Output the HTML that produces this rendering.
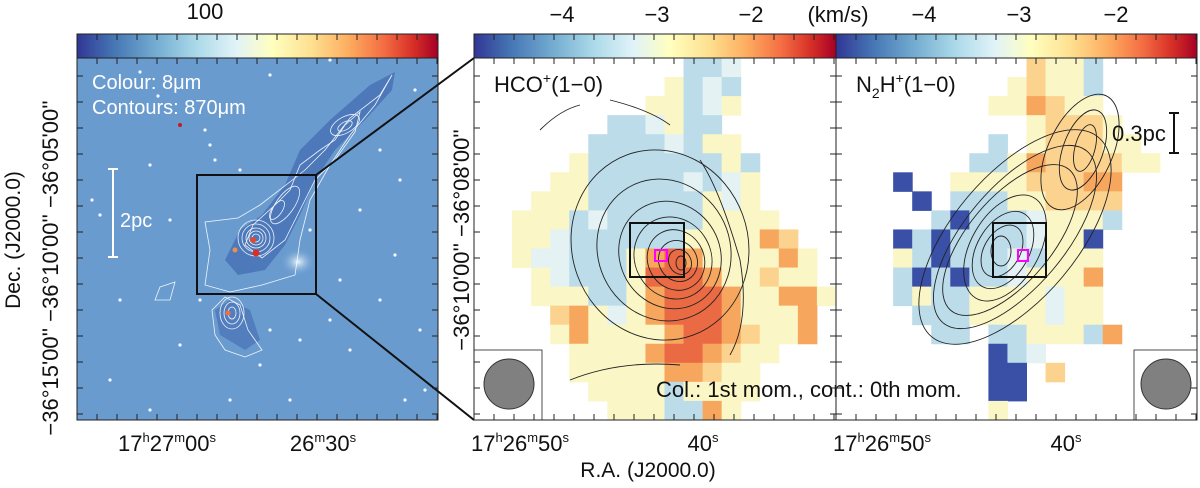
<!DOCTYPE html>
<html><head><meta charset="utf-8">
<style>
body{margin:0;background:#fff;width:1200px;height:483px;overflow:hidden;font-family:"Liberation Sans",sans-serif}
svg text{font-family:"Liberation Sans",sans-serif;fill:#111}
</style></head><body>
<svg id="fig" width="1200" height="483" viewBox="0 0 1200 483" xmlns="http://www.w3.org/2000/svg">
<defs>
<linearGradient id="cb" x1="0" x2="1" y1="0" y2="0">
<stop offset="0" stop-color="#313695"/><stop offset="0.1" stop-color="#4575b4"/><stop offset="0.22" stop-color="#74add1"/><stop offset="0.33" stop-color="#abd9e9"/><stop offset="0.44" stop-color="#e0f3f8"/><stop offset="0.54" stop-color="#ffffbf"/><stop offset="0.65" stop-color="#fee090"/><stop offset="0.75" stop-color="#fdae61"/><stop offset="0.85" stop-color="#f46d43"/><stop offset="0.93" stop-color="#d73027"/><stop offset="1" stop-color="#a50026"/>
</linearGradient>
<radialGradient id="glow" cx="0.5" cy="0.5" r="0.5"><stop offset="0" stop-color="#e8f4fb"/><stop offset="1" stop-color="#6a9bcf" stop-opacity="0"/></radialGradient>
</defs>
<rect x="77" y="34" width="361" height="24" fill="url(#cb)" stroke="#222"/>
<rect x="474" y="34" width="362" height="24" fill="url(#cb)" stroke="#222"/>
<rect x="836" y="34" width="361" height="24" fill="url(#cb)" stroke="#222"/>
<text x="205" y="19" font-size="22" text-anchor="middle">100</text>
<text x="562" y="22" font-size="22" text-anchor="middle">−4</text>
<text x="657" y="22" font-size="22" text-anchor="middle">−3</text>
<text x="751" y="22" font-size="22" text-anchor="middle">−2</text>
<text x="838" y="22" font-size="22" text-anchor="middle">(km/s)</text>
<text x="924" y="22" font-size="22" text-anchor="middle">−4</text>
<text x="1019" y="22" font-size="22" text-anchor="middle">−3</text>
<text x="1116" y="22" font-size="22" text-anchor="middle">−2</text>

<g>
<rect x="77" y="58" width="361" height="362" fill="#6a9bcf"/>
<path d="M395 72 L370 85 L330 120 L300 150 L285 185 L262 215 L240 230 L225 260 L238 275 L265 270 L285 245 L300 215 L315 180 L335 150 L365 120 L392 90Z" fill="#3a62ad" opacity="0.6"/>
<path d="M230 300 L215 310 L220 335 L245 350 L260 340 L250 310Z" fill="#3a62ad" opacity="0.5"/>
<ellipse cx="298" cy="262" rx="18" ry="14" fill="url(#glow)"/>
<g fill="none" stroke="#fff" stroke-width="0.8" opacity="0.9">
<path d="M392 75 L380 95 L350 118 L325 150 L305 170 L295 178 L260 205 L238 218 L205 222 L210 250 L205 285 L230 292 L262 285 L295 275 L300 240 L310 200 L330 165 L350 135 L375 105Z"/>
<path d="M360 112 L345 125 L335 140 L320 150 L300 165 L290 190 L275 205 L253 225 L245 245 L262 258 L285 240 L300 210 L315 180 L335 160 L355 132Z"/>
<ellipse cx="345" cy="125" rx="16" ry="8" transform="rotate(-30 345 125)"/>
<ellipse cx="345" cy="126" rx="8" ry="4" transform="rotate(-30 345 126)"/>
<ellipse cx="285" cy="205" rx="9" ry="22" transform="rotate(35 285 205)"/>
<ellipse cx="277" cy="210" rx="5" ry="11" transform="rotate(35 277 210)"/>
<circle cx="256" cy="238" r="18"/><circle cx="256" cy="238" r="14"/><circle cx="256" cy="238" r="10"/><circle cx="256" cy="238" r="7"/><circle cx="256" cy="238" r="4"/>
<path d="M160 287 L175 282 L170 300 L155 300Z"/>
<path d="M225 297 L240 305 L248 330 L262 350 L245 357 L225 350 L215 335 L212 310Z"/>
<ellipse cx="232" cy="313" rx="12" ry="16"/><ellipse cx="232" cy="313" rx="8" ry="11"/><ellipse cx="232" cy="313" rx="4" ry="6"/>
</g>
<g id="stars" fill="#f4f9ff"></g>
<circle cx="253" cy="240" r="3" fill="#e04a30"/><circle cx="256" cy="253" r="3.5" fill="#d73027"/><circle cx="235" cy="250" r="2.5" fill="#f48a50"/><circle cx="228" cy="313" r="2.5" fill="#f46d43"/><circle cx="180" cy="125" r="2" fill="#c81a1a"/>
<text x="92" y="89" font-size="20" style="fill:#fff">Colour: 8μm</text>
<text x="92" y="114" font-size="20" style="fill:#fff">Contours: 870μm</text>
<path d="M108 169 H118 M113 169 V257 M108 257 H118" stroke="#fff" stroke-width="2" fill="none"/>
<text x="120" y="227" font-size="20" style="fill:#fff">2pc</text>
<rect x="197" y="175" width="119" height="119" fill="none" stroke="#111" stroke-width="2"/>
</g>
<rect x="77" y="58" width="361" height="362" fill="none" stroke="#222"/>
<path d="M316 175 L474 58 M316 294 L474 420" stroke="#111" stroke-width="2"/>

<g id="hco"></g>
<g id="n2h"></g>

<g fill="none" stroke="#222" stroke-width="0.9">
<path d="M540 130 Q560 110 580 105 M610 100 Q650 110 670 125 M700 160 Q720 190 740 260 Q750 320 730 355 M570 380 Q620 360 680 365"/>
<ellipse cx="660" cy="245" rx="88" ry="96" transform="rotate(-20 660 245)"/>
<ellipse cx="664" cy="250" rx="66" ry="72" transform="rotate(-25 664 250)"/>
<ellipse cx="670" cy="255" rx="50" ry="55" transform="rotate(-30 670 255)"/>
<ellipse cx="673" cy="258" rx="38" ry="42" transform="rotate(-30 673 258)"/>
<ellipse cx="676" cy="260" rx="28" ry="31" transform="rotate(-30 676 260)"/>
<ellipse cx="678" cy="261" rx="19" ry="21" transform="rotate(-30 678 261)"/>
<ellipse cx="680" cy="262" rx="11" ry="13" transform="rotate(-30 680 262)"/>
<ellipse cx="681" cy="263" rx="5" ry="7"/>
</g>
<g fill="none" stroke="#222" stroke-width="0.9">
<ellipse cx="1015" cy="237" rx="62" ry="130" transform="rotate(40 1015 237)"/>
<ellipse cx="1015" cy="237" rx="50" ry="112" transform="rotate(40 1015 237)"/>
<ellipse cx="1010" cy="240" rx="42" ry="92" transform="rotate(40 1010 240)"/>
<ellipse cx="1005" cy="248" rx="34" ry="58" transform="rotate(30 1005 248)"/>
<ellipse cx="1003" cy="250" rx="26" ry="42" transform="rotate(30 1003 250)"/>
<ellipse cx="1002" cy="251" rx="18" ry="28" transform="rotate(30 1002 251)"/>
<ellipse cx="1001" cy="251" rx="10" ry="15"/>
<ellipse cx="1080" cy="152" rx="32" ry="62" transform="rotate(25 1080 152)"/>
<ellipse cx="1083" cy="150" rx="20" ry="42" transform="rotate(20 1083 150)"/>
<ellipse cx="1085" cy="148" rx="10" ry="24" transform="rotate(15 1085 148)"/>
</g>

<rect x="630" y="223" width="54" height="54" fill="none" stroke="#111" stroke-width="2"/>
<rect x="655" y="250" width="12" height="11" fill="none" stroke="#f0f" stroke-width="2"/>
<rect x="993" y="223" width="53" height="54" fill="none" stroke="#111" stroke-width="2"/>
<rect x="1018" y="250" width="10" height="11" fill="none" stroke="#f0f" stroke-width="2"/>
<text x="494" y="92" font-size="22">HCO<tspan dy="-9" font-size="14">+</tspan><tspan dy="9">(1−0)</tspan></text>
<text x="856" y="92" font-size="22">N<tspan dy="6" font-size="14">2</tspan><tspan dy="-6">H</tspan><tspan dy="-9" font-size="14">+</tspan><tspan dy="9">(1−0)</tspan></text>
<path d="M1174 113 V153 M1169 113 H1179 M1169 153 H1179" stroke="#111" stroke-width="2"/>
<text x="1112" y="141" font-size="22">0.3pc</text>
<text x="656" y="397" font-size="22">Col.: 1st mom., cont.: 0th mom.</text>
<rect x="474" y="350" width="68" height="70" fill="#fff" stroke="#222" stroke-width="0.8"/>
<ellipse cx="509" cy="384" rx="25" ry="25" fill="#808080" stroke="#333"/>
<rect x="1134" y="350" width="63" height="70" fill="#fff" stroke="#222" stroke-width="0.8"/>
<ellipse cx="1166" cy="384" rx="25" ry="25" fill="#808080" stroke="#333"/>
<rect x="474" y="58" width="362" height="362" fill="none" stroke="#222"/>
<rect x="836" y="58" width="361" height="362" fill="none" stroke="#222"/>
<g id="ticks" stroke="#222" stroke-width="1"></g>

<text transform="translate(20 240) rotate(-90)" font-size="21" text-anchor="middle">Dec.  (J2000.0)</text>
<text transform="translate(58 268) rotate(-90)" font-size="22" text-anchor="middle">−36°15'00''  −36°10'00''  −36°05'00''</text>
<text transform="translate(469 240) rotate(-90)" font-size="22" text-anchor="middle">−36°10'00''      −36°08'00''</text>
<text x="167" y="451" font-size="22" text-anchor="middle">17<tspan dy="-9" font-size="13">h</tspan><tspan dy="9">27</tspan><tspan dy="-9" font-size="13">m</tspan><tspan dy="9">00</tspan><tspan dy="-9" font-size="13">s</tspan></text>
<text x="323" y="451" font-size="22" text-anchor="middle">26<tspan dy="-9" font-size="13">m</tspan><tspan dy="9">30</tspan><tspan dy="-9" font-size="13">s</tspan></text>
<text x="520" y="451" font-size="22" text-anchor="middle">17<tspan dy="-9" font-size="13">h</tspan><tspan dy="9">26</tspan><tspan dy="-9" font-size="13">m</tspan><tspan dy="9">50</tspan><tspan dy="-9" font-size="13">s</tspan></text>
<text x="703" y="451" font-size="22" text-anchor="middle">40<tspan dy="-9" font-size="13">s</tspan></text>
<text x="882" y="451" font-size="22" text-anchor="middle">17<tspan dy="-9" font-size="13">h</tspan><tspan dy="9">26</tspan><tspan dy="-9" font-size="13">m</tspan><tspan dy="9">50</tspan><tspan dy="-9" font-size="13">s</tspan></text>
<text x="1066" y="451" font-size="22" text-anchor="middle">40<tspan dy="-9" font-size="13">s</tspan></text>
<text x="648" y="477" font-size="21" text-anchor="middle">R.A. (J2000.0)</text>
</svg>
<script>
const hcoRows=[
"...........ccl.....","..........yclc.....",".........yycly.....",".......cclycc......","......cccclcyy.....",
".....ycccccccyc....","....yyccccclcly....","...yyyccccccyly....","..yyyclcccccyyyy...","..yylccccccyyyyOo..",
"..yllcccyOrOyyyyOy.","...ylcccyrrrOyyoyy.","...yyyccyOrrrOyyOOy","....oOylyOrrrOyyyO.","....yOyyyyOrrOoyyO.",
".....yyyyOrrOoyy...",".....yyyyyOOoyy....","......yyyycyyyy....",".......yyyccOy....."];
const n2hRows=[
"..........oyyc.....",".........yoyyc.....","........yyOoyy.....","..........yoooy....","........c.yoooyy...",
".......ccyOooooyy..","...b..yyyyoooOO....","....b.cccyyoooo....",".....cbccclyyyc....","...bcbcccclyyb.....",
"...ycbccclcyyy.....","...cbcbcclyyyO.....","...cyccyyyylyy.....","....cccyyyylyy.....",".....cc.ccyyycO....",
"........bcl........","........bb.o.......","........bb.........","........y.........."];
const palette={b:"#3a4fa6",c:"#bcdcea",l:"#e4f2f4",y:"#fbf6c6",o:"#fcd38e",O:"#f7a65e",r:"#ea6a44"};
const NS="http://www.w3.org/2000/svg";
function drawGrid(id,rows,x0,y0){
  const g=document.getElementById(id);const cs=19.05;
  rows.forEach((row,r)=>{for(let c=0;c<row.length;c++){const k=row[c];if(!palette[k])continue;
    const e=document.createElementNS(NS,"rect");
    
    
    e.setAttribute("x",x0+c*cs);e.setAttribute("y",y0+r*cs);e.setAttribute("width",cs+0.5);e.setAttribute("height",cs+0.5);e.setAttribute("fill",palette[k]);g.appendChild(e);}});
}
drawGrid("hco",hcoRows,474,58);
drawGrid("n2h",n2hRows,836,58);
const sg=document.getElementById("stars");
const starPos=[[140,72],[158,96],[205,130],[210,145],[215,160],[240,170],[270,75],[92,200],[100,215],[170,220],[200,300],[260,365],[300,340],[330,320],[350,350],[380,300],[395,255],[400,180],[415,90],[425,390],[110,380],[120,300],[150,410],[180,345],[290,400],[310,230],[360,210],[380,150],[420,330],[330,60],[150,165],[230,400],[270,330],[340,280],[405,400]];
starPos.forEach(p=>{const e=document.createElementNS(NS,"circle");


e.setAttribute("cx",p[0]);e.setAttribute("cy",p[1]);e.setAttribute("r",1.6);sg.appendChild(e);});
const tg=document.getElementById("ticks");
function tick(x1,y1,x2,y2){const e=document.createElementNS(NS,"line");


e.setAttribute("x1",x1);e.setAttribute("y1",y1);e.setAttribute("x2",x2);e.setAttribute("y2",y2);tg.appendChild(e);}
[[77,438],[474,836],[836,1197]].forEach(([a,b])=>{
  for(let x=a+20;x<b;x+=20){tick(x,420,x,414);tick(x,58,x,64);tick(x,34,x,40);}
  for(let y=76;y<420;y+=26){tick(a,y,a+6,y);tick(b,y,b-6,y);}
});
</script>
</body></html>
